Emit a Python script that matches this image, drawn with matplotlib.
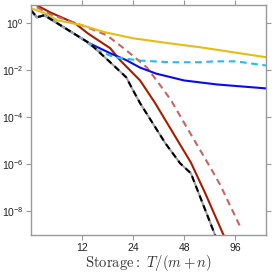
import matplotlib
matplotlib.use("Agg")
import matplotlib.pyplot as plt
import matplotlib.ticker as mticker

plt.rcParams["font.family"] = ["Liberation Sans", "DejaVu Sans"]
plt.rcParams["mathtext.fontset"] = "cm"

# values (x = storage T/(m+n), y = error)
yellow_x = [6.0, 7.2, 8.6, 12.0, 16.5, 24.0, 39.5, 60.0, 146.0]
yellow_y = [4.4, 2.7, 1.34, 0.82, 0.41, 0.23, 0.14, 0.095, 0.036]

cyan_x = [6.0, 6.5, 7.2, 12.4, 14.7, 18.6, 26.4, 39.5, 59.0, 72.5, 97.0, 146.0]
cyan_y = [3.6, 1.8, 2.2, 0.19, 0.071, 0.036, 0.026, 0.022, 0.022, 0.024, 0.024, 0.016]

blue_x = [6.0, 6.5, 7.2, 13.3, 17.6, 21.9, 26.4, 32.9, 48.0, 75.0, 146.0]
blue_y = [3.6, 1.8, 2.2, 0.14, 0.053, 0.027, 0.013, 0.0072, 0.0037, 0.0025, 0.0017]

red_x = [6.5, 7.8, 10.9, 13.0, 17.6, 20.1, 26.4, 32.4, 52.6, 64.0, 81.9]
red_y = [5.8, 2.9, 1.0, 0.37, 0.087, 0.027, 0.0037, 4e-4, 1.2e-6, 5.8e-8, 1e-9]

rose_x = [6.5, 7.8, 12.0, 16.8, 21.9, 29.0, 35.4, 40.2, 49.8, 70.2, 78.5, 102.0]
rose_y = [4.8, 2.4, 0.82, 0.31, 0.071, 0.013, 1.9e-3, 5.3e-4, 3.7e-5, 5.5e-7, 1.3e-7, 2.5e-9]

black_x = [6.0, 6.5, 7.2, 13.3, 17.6, 21.9, 24.0, 26.4, 37.2, 45.5, 52.6, 73.0]
black_y = [3.6, 1.8, 2.2, 0.14, 0.022, 0.005, 1.4e-3, 4e-4, 7.9e-6, 1.1e-6, 4.2e-7, 1e-9]

xticks = [12, 24, 48, 96]
yticks = [1e0, 1e-2, 1e-4, 1e-6, 1e-8]

fig = plt.figure(figsize=(2.74, 2.77), dpi=100)
ax = fig.add_axes([0.113, 0.152, 0.858, 0.830])

lw = 1.5
ax.plot(red_x, red_y, color="#A61C00", lw=lw)
ax.plot(rose_x, rose_y, color="#C86464", lw=lw, dashes=(3.2, 2.2))
ax.plot(yellow_x, yellow_y, color="#E8BC14", lw=lw)
ax.plot(blue_x, blue_y, color="#0A0AF0", lw=lw)
ax.plot(cyan_x, cyan_y, color="#1EBEF0", lw=lw, dashes=(3.2, 2.2))
ax.plot(black_x, black_y, color="#A0A0A0", lw=lw)
ax.plot(black_x, black_y, color="black", lw=lw, dashes=(3.0, 2.0))

ax.set_xscale("log", base=2)
ax.set_yscale("log")
ax.set_xlim(6, 146)
ax.set_ylim(1e-9, 6)
ax.set_xticks(xticks)
ax.xaxis.set_major_formatter(mticker.FixedFormatter([str(t) for t in xticks]))
ax.set_yticks(yticks)
ax.xaxis.set_minor_locator(mticker.NullLocator())
ax.yaxis.set_minor_locator(mticker.NullLocator())

for s in ax.spines.values():
    s.set_color("#999999")
    s.set_linewidth(1.0)
ax.tick_params(which="major", direction="out", length=3.5, width=0.8, color="#999999",
               labelsize=7.5, labelcolor="#222222", top=True, right=True, pad=2)

ax.set_xlabel(r"$\mathrm{Storage{:}}\ T/(m+n)$", fontsize=10.5, color="#333333", labelpad=0)

fig.savefig("out.png", dpi=100)
